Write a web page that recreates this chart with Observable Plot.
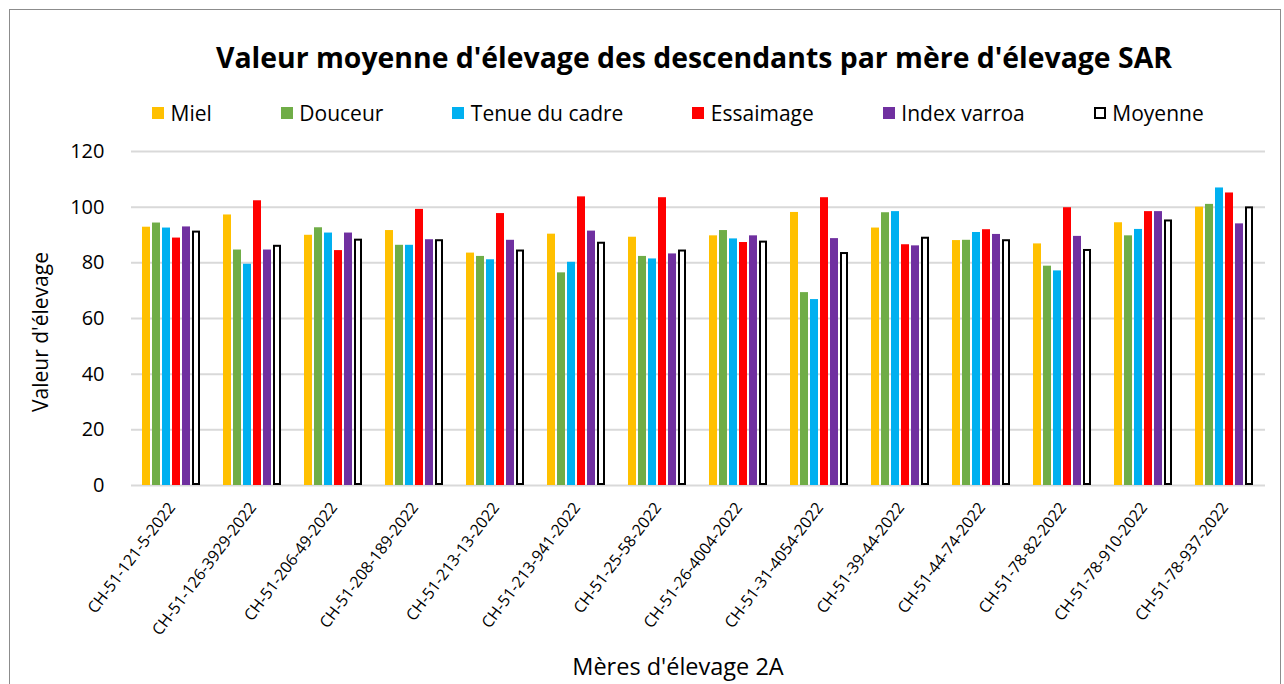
<!DOCTYPE html>
<html><head><meta charset="utf-8">
<script src="https://cdn.jsdelivr.net/npm/d3@7"></script>
<script src="https://cdn.jsdelivr.net/npm/@observablehq/plot@0.6"></script>
<style>
body{margin:0;background:#fff;font-family:"Open Sans",Lato,sans-serif;color:#000;overflow:hidden;width:1284px;height:684px;position:relative}
#frame{position:absolute;left:9px;top:9px;width:1272px;height:700px;border:1px solid #8c8c8c;box-sizing:border-box}
#title{position:absolute;left:94px;width:1200px;top:37px;text-align:center;font-weight:bold;font-size:28.4px;line-height:40px;white-space:nowrap}
#legend{position:absolute;left:152px;top:99px;display:flex;gap:69px;font-size:21px;line-height:28px;white-space:nowrap}
#legend .it{display:flex;align-items:center}
#legend .sw{width:12px;height:12px;margin-right:6.5px;box-sizing:border-box}
#chart{position:absolute;left:0;top:140px}
#ytitle{position:absolute;left:40px;top:332px;width:0;height:0}
#ytitle span{position:absolute;left:0;top:0;transform:translate(-50%,-50%) rotate(-90deg);font-size:21px;line-height:24px;white-space:nowrap}
#xtitle{position:absolute;left:0;width:1356px;top:655px;text-align:center;font-size:23.5px;line-height:23.5px;white-space:nowrap}
</style></head>
<body>
<div id="frame"></div>
<div id="title"></div>
<div id="legend"></div>
<div id="chart"></div>
<div id="ytitle"><span></span></div>
<div id="xtitle"></div>
<script>
const categories = ["CH-51-121-5-2022","CH-51-126-3929-2022","CH-51-206-49-2022","CH-51-208-189-2022","CH-51-213-13-2022","CH-51-213-941-2022","CH-51-25-58-2022","CH-51-26-4004-2022","CH-51-31-4054-2022","CH-51-39-44-2022","CH-51-44-74-2022","CH-51-78-82-2022","CH-51-78-910-2022","CH-51-78-937-2022"];
const series = ["Miel","Douceur","Tenue du cadre","Essaimage","Index varroa","Moyenne"];
const colors = ["#FFC000","#70AD47","#00B0F0","#FF0000","#7030A0","#FFFFFF"];
const miel      = [92.8, 97.2, 89.9, 91.6, 83.5, 90.3, 89.2, 89.7, 98.1, 92.5, 88.0, 86.8, 94.4, 100.0];
const douceur   = [94.3, 84.6, 92.6, 86.3, 82.3, 76.4, 82.3, 91.6, 69.3, 98.0, 88.1, 78.8, 89.7, 101.0];
const tenue     = [92.5, 79.5, 90.7, 86.3, 81.1, 80.2, 81.4, 88.6, 66.8, 98.4, 90.9, 77.1, 92.0, 106.9];
const essaimage = [88.9, 102.3, 84.4, 99.2, 97.7, 103.7, 103.4, 87.3, 103.4, 86.5, 91.9, 99.8, 98.4, 105.1];
const varroa    = [92.9, 84.6, 90.7, 88.3, 88.1, 91.4, 83.2, 89.7, 88.7, 86.1, 90.2, 89.5, 98.4, 94.0];
const moyenne   = [91.4, 86.3, 88.5, 88.3, 84.6, 87.4, 84.6, 87.8, 83.7, 89.2, 88.3, 84.8, 95.4, 100.1];
const yTicks = [0, 20, 40, 60, 80, 100, 120];
const titleText = "Valeur moyenne d'élevage des descendants par mère d'élevage SAR";
const yLabel = "Valeur d'élevage";
const xLabel = "Mères d'élevage 2A";

const seriesValues = [miel, douceur, tenue, essaimage, varroa, moyenne];
const rows = [];
categories.forEach((c, i) => series.forEach((s, j) => rows.push({cat: c, series: s, value: seriesValues[j][i]})));

document.getElementById("title").textContent = titleText;
document.getElementById("xtitle").textContent = xLabel;
document.querySelector("#ytitle span").textContent = yLabel;
const leg = document.getElementById("legend");
series.forEach((s, j) => {
  const it = document.createElement("div"); it.className = "it";
  const sw = document.createElement("div"); sw.className = "sw";
  sw.style.background = colors[j];
  if (s === "Moyenne") sw.style.border = "2px solid #000";
  const t = document.createElement("span"); t.textContent = s;
  it.appendChild(sw); it.appendChild(t); leg.appendChild(it);
});

const chart = Plot.plot({
  width: 1284, height: 510,
  marginTop: 11, marginBottom: 165, marginLeft: 127, marginRight: 16,
  style: {fontFamily: "'Open Sans', Lato, sans-serif", color: "#000", background: "transparent", overflow: "visible"},
  fx: {domain: categories, padding: 0, label: null},
  x: {domain: series, paddingInner: 0.18, paddingOuter: 0.8, axis: null},
  y: {domain: [0, 120], ticks: yTicks},
  color: {domain: series, range: colors},
  marks: [
    Plot.gridY(yTicks, {stroke: "#d9d9d9", strokeOpacity: 1, strokeWidth: 2}),
    Plot.barY(rows.filter(d => d.series !== "Moyenne"), {fx: "cat", x: "series", y: "value", fill: "series"}),
    Plot.barY(rows.filter(d => d.series === "Moyenne"), {fx: "cat", x: "series", y: "value", fill: "#fff", stroke: "#000", strokeWidth: 2, inset: 1}),
    Plot.axisY(yTicks, {tickSize: 0, tickPadding: 27, fontSize: 20, label: null}),
    Plot.axisFx({anchor: "bottom", tickRotate: -53, tickSize: 0, tickPadding: 19, fontSize: 16, label: null})
  ]
});
document.getElementById("chart").appendChild(chart);
</script>
</body></html>
